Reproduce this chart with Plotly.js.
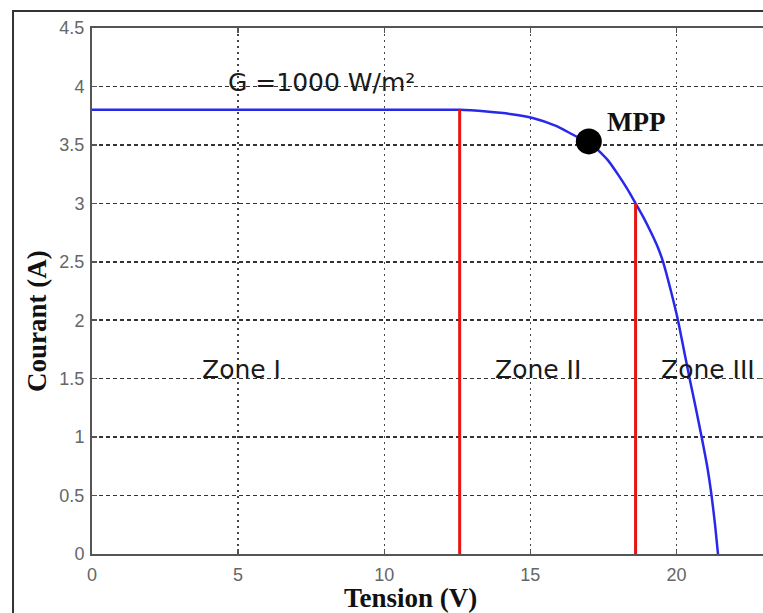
<!DOCTYPE html>
<html>
<head>
<meta charset="utf-8">
<script src="https://cdn.plot.ly/plotly-3.0.1.min.js"></script>
<style>
  html, body { margin: 0; padding: 0; background: #fff; overflow: hidden; }
  #chart { width: 763px; height: 613px; }
</style>
</head>
<body>
<div id="chart"></div>
<script>
// I-V curve of the PV module (G = 1000 W/m²)
const tension = [0, 2.5, 5, 7.5, 10, 12.58, 13.5, 14.3, 15.08, 15.9, 16.59, 17.0, 17.3, 17.65, 17.99, 18.3, 18.6, 18.87, 19.13, 19.35, 19.54, 19.81, 20.05, 20.25, 20.45, 20.66, 20.86, 21.05, 21.2, 21.32, 21.42];
const courant = [3.80, 3.80, 3.80, 3.80, 3.80, 3.80, 3.785, 3.765, 3.73, 3.66, 3.57, 3.53, 3.46, 3.37, 3.25, 3.13, 3.00, 2.88, 2.75, 2.63, 2.50, 2.25, 2.00, 1.75, 1.50, 1.25, 1.00, 0.75, 0.50, 0.25, 0.00];

// Zone boundaries (vertical red lines)
const limite1X = [12.58, 12.58];
const limite1Y = [0, 3.80];
const limite2X = [18.6, 18.6];
const limite2Y = [0, 3.00];

// Maximum power point
const mppX = [17.0];
const mppY = [3.53];

// Ticks
const xTickVals = [0, 5, 10, 15, 20];
const xTickText = ['0', '5', '10', '15', '20'];
const yTickVals = [0, 0.5, 1, 1.5, 2, 2.5, 3, 3.5, 4, 4.5];
const yTickText = ['0', '0.5', '1', '1.5', '2', '2.5', '3', '3.5', '4', '4.5'];

// Labels
const zoneLabels = ['Zone I', 'Zone II', 'Zone III'];
const zoneX = [5.1, 15.25, 19.4];
const zoneY = [1.58, 1.58, 1.58];

const traces = [
  {
    x: tension, y: courant, type: 'scatter', mode: 'lines',
    line: { color: 'rgb(40,40,235)', width: 2.5, shape: 'spline', smoothing: 0.5 },
    hoverinfo: 'skip', showlegend: false
  },
  {
    x: limite1X, y: limite1Y, type: 'scatter', mode: 'lines',
    line: { color: 'rgb(232,20,20)', width: 3 }, showlegend: false
  },
  {
    x: limite2X, y: limite2Y, type: 'scatter', mode: 'lines',
    line: { color: 'rgb(232,20,20)', width: 3 }, showlegend: false
  },
  {
    x: mppX, y: mppY, type: 'scatter', mode: 'markers',
    marker: { color: '#000', size: 26 }, showlegend: false
  }
];

const sansText = { family: 'DejaVu Sans, sans-serif', size: 25, color: '#1a1a1a' };
const serifBold = { family: 'Liberation Serif, Times New Roman, serif', size: 27, color: '#111' };

const annotations = [
  { x: 4.58, y: 4.03, xref: 'x', yref: 'y', text: 'G =1000 W/m²', showarrow: false,
    xanchor: 'left', yanchor: 'middle', font: sansText },
  { x: 18.6, y: 3.70, xref: 'x', yref: 'y', text: '<b>MPP</b>', showarrow: false,
    xanchor: 'center', yanchor: 'middle', font: serifBold },
  { x: zoneX[0], y: zoneY[0], xref: 'x', yref: 'y', text: zoneLabels[0], showarrow: false,
    xanchor: 'center', yanchor: 'middle', font: sansText },
  { x: zoneX[1], y: zoneY[1], xref: 'x', yref: 'y', text: zoneLabels[1], showarrow: false,
    xanchor: 'center', yanchor: 'middle', font: sansText },
  { x: zoneX[2], y: zoneY[2], xref: 'x', yref: 'y', text: zoneLabels[2], showarrow: false,
    xanchor: 'left', yanchor: 'middle', font: sansText },
  { x: 0.474, y: -0.0837, xref: 'paper', yref: 'paper', text: '<b>Tension (V)</b>', showarrow: false,
    xanchor: 'center', yanchor: 'middle', font: serifBold },
  { x: -0.082, y: 0.443, xref: 'paper', yref: 'paper', text: '<b>Courant (A)</b>', showarrow: false,
    textangle: -90, xanchor: 'center', yanchor: 'middle', font: serifBold }
];

const layout = {
  width: 763, height: 613,
  margin: { l: 92, r: 0, t: 28, b: 59, pad: 0 },
  paper_bgcolor: '#fff', plot_bgcolor: '#fff',
  showlegend: false,
  xaxis: {
    range: [0, 22.96], tickvals: xTickVals, ticktext: xTickText,
    showgrid: true, gridcolor: '#444', gridwidth: 1.5, griddash: '2px,4px',
    zeroline: false, showline: true, linecolor: '#555', linewidth: 2, mirror: 'ticks',
    ticks: 'inside', ticklen: 5, tickcolor: '#555', tickwidth: 1.5,
    tickfont: { family: 'Liberation Sans, Arial, sans-serif', size: 18, color: '#666' },
    ticklabelstandoff: 3, fixedrange: true
  },
  yaxis: {
    range: [0, 4.5], tickvals: yTickVals, ticktext: yTickText,
    showgrid: true, gridcolor: '#333', gridwidth: 1.6, griddash: '4px,3px',
    zeroline: false, showline: true, linecolor: '#555', linewidth: 2, mirror: 'ticks',
    ticks: 'inside', ticklen: 5, tickcolor: '#555', tickwidth: 1.5,
    tickfont: { family: 'Liberation Sans, Arial, sans-serif', size: 18, color: '#666' },
    ticklabelstandoff: 2, fixedrange: true
  },
  shapes: [
    { type: 'rect', xref: 'paper', yref: 'paper', x0: -0.1177, x1: 1.3, y0: -0.4, y1: 1.0323,
      line: { color: '#333', width: 2 }, fillcolor: 'rgba(0,0,0,0)', layer: 'above' }
  ],
  annotations: annotations
};

Plotly.newPlot('chart', traces, layout, { displayModeBar: false, staticPlot: true });
</script>
</body>
</html>
